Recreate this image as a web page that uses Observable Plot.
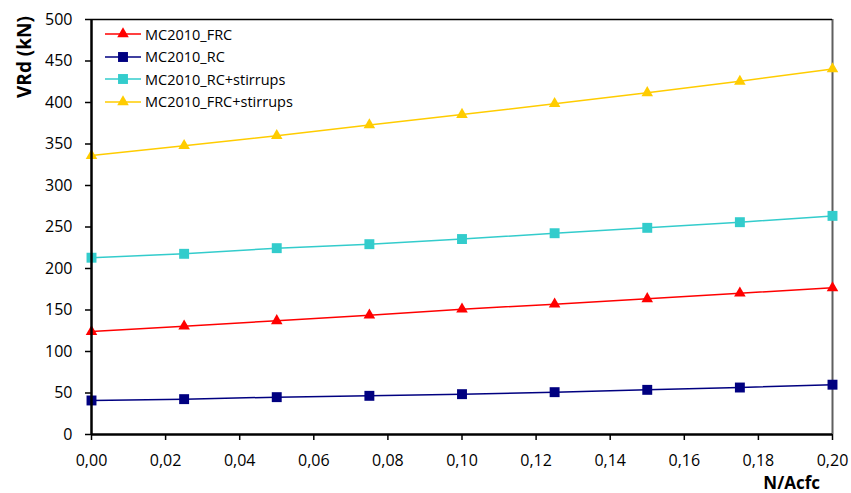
<!DOCTYPE html>
<html>
<head>
<meta charset="utf-8">
<script src="https://cdn.jsdelivr.net/npm/d3@7"></script>
<script src="https://cdn.jsdelivr.net/npm/@observablehq/plot@0.6"></script>
<style>
  html, body { margin: 0; padding: 0; background: #fff; }
  #wrap { position: relative; width: 851px; height: 493px; font-family: "Open Sans", sans-serif; }
  #legend { position: absolute; left: 104px; top: 23px; font-size: 14.5px; color: #000; z-index: 2; }
</style>
</head>
<body>
<div id="wrap"><div id="legend"></div></div>
<script>
const nAcfc = [0, 0.025, 0.05, 0.075, 0.10, 0.125, 0.15, 0.175, 0.20];
const mc2010FRC = [124, 130.5, 137, 143.8, 151, 157, 163.5, 170.3, 176.7];
const mc2010RC = [41, 42.6, 45, 46.6, 48.6, 51, 53.8, 56.6, 60];
const mc2010RCstirrups = [213, 217.7, 224.5, 229.3, 235.5, 242.5, 249, 255.8, 263.4];
const mc2010FRCstirrups = [336, 348, 360, 373, 385.5, 398.5, 411.7, 425.5, 440.5];
const seriesNames = ["MC2010_FRC", "MC2010_RC", "MC2010_RC+stirrups", "MC2010_FRC+stirrups"];
const seriesColors = ["#FF0000", "#000080", "#33CCCC", "#FFCC00"];
const seriesSymbols = ["triangle", "square", "square", "triangle"];
const xTicks = [0, 0.02, 0.04, 0.06, 0.08, 0.10, 0.12, 0.14, 0.16, 0.18, 0.20];
const yTicks = [0, 50, 100, 150, 200, 250, 300, 350, 400, 450, 500];

const seriesValues = [mc2010FRC, mc2010RC, mc2010RCstirrups, mc2010FRCstirrups];
const data = seriesNames.flatMap((s, i) => nAcfc.map((x, j) => ({series: s, x, y: seriesValues[i][j], symbol: seriesSymbols[i]})));
const fmt = d => d.toFixed(2).replace(".", ",");

const plot = Plot.plot({
  width: 851, height: 493,
  marginLeft: 91, marginRight: 19, marginTop: 19, marginBottom: 59,
  style: {fontFamily: "Open Sans, sans-serif", fontSize: "16px", color: "#000", background: "#fff"},
  x: {domain: [0, 0.2]},
  y: {domain: [0, 500]},
  color: {domain: seriesNames, range: seriesColors},
  marks: [
    Plot.ruleX([0.2], {stroke: "#5f5f5f", strokeWidth: 2}),
    Plot.ruleY([500], {stroke: "#000", strokeWidth: 1.5}),
    Plot.axisY({ticks: yTicks, tickSize: 6, tickPadding: 13, label: null, strokeWidth: 1.5, fontSize: 16}),
    Plot.axisX({ticks: xTicks, tickSize: 6, tickPadding: 14, tickFormat: fmt, label: null, strokeWidth: 1.5, fontSize: 16}),
    Plot.line(data, {x: "x", y: "y", stroke: "series", strokeWidth: 1.5}),
    Plot.dot(data.filter(d => d.symbol === "triangle"), {x: "x", y: "y", fill: "series", symbol: "triangle", r: 4.3, stroke: null}),
    Plot.dot(data.filter(d => d.symbol === "square"), {x: "x", y: "y", fill: "series", symbol: "square", r: 5.6, stroke: null}),
    Plot.ruleX([0], {stroke: "#000", strokeWidth: 2.5}),
    Plot.ruleY([0], {stroke: "#000", strokeWidth: 2.5})
  ]
});

const svg = d3.select(plot);
svg.append("text")
  .attr("transform", "translate(31,57) rotate(-90)")
  .attr("text-anchor", "middle")
  .attr("font-weight", "bold")
  .attr("font-size", 19)
  .attr("font-family", "Open Sans, sans-serif")
  .attr("fill", "#000")
  .text("VRd (kN)");
svg.append("text")
  .attr("x", 820).attr("y", 489)
  .attr("text-anchor", "end")
  .attr("font-weight", "bold")
  .attr("font-size", 17)
  .attr("font-family", "Open Sans, sans-serif")
  .attr("fill", "#000")
  .text("N/Acfc");

document.getElementById("wrap").appendChild(plot);

const legend = d3.select("#legend");
seriesNames.forEach((s, i) => {
  const row = legend.append("div")
    .style("position", "absolute").style("left", "0px").style("top", (i * 22.5) + "px")
    .style("height", "22px").style("display", "flex").style("align-items", "center").style("white-space", "nowrap");
  const sv = row.append("svg").attr("width", 38).attr("height", 14).style("margin-right", "3px");
  sv.append("line").attr("x1", 1).attr("x2", 37).attr("y1", 7).attr("y2", 7).attr("stroke", seriesColors[i]).attr("stroke-width", 1.5);
  const sym = seriesSymbols[i] === "triangle" ? d3.symbolTriangle : d3.symbolSquare;
  const size = seriesSymbols[i] === "triangle" ? Math.PI * 4.3 * 4.3 : Math.PI * 5.6 * 5.6;
  sv.append("path").attr("d", d3.symbol(sym, size)()).attr("transform", "translate(19,7)").attr("fill", seriesColors[i]);
  row.append("span").text(s);
});
</script>
</body>
</html>
